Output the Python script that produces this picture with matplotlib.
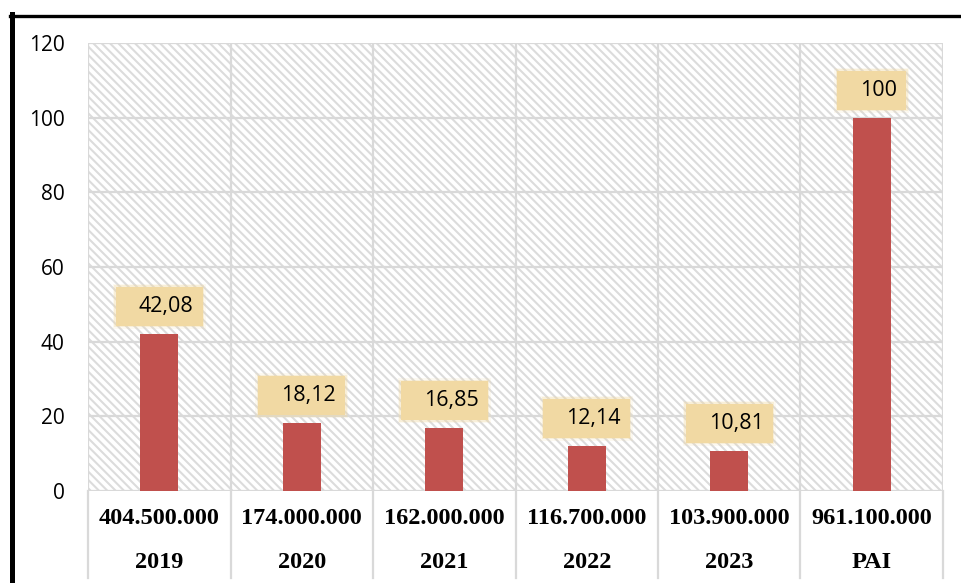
import matplotlib
matplotlib.use("Agg")
import matplotlib.pyplot as plt
import matplotlib.transforms as mtransforms
from matplotlib.patches import Rectangle
from matplotlib.lines import Line2D

# Data
years = ["2019", "2020", "2021", "2022", "2023", "PAI"]
amounts = [404500000, 174000000, 162000000, 116700000, 103900000, 961100000]
percent = [42.08, 18.12, 16.85, 12.14, 10.81, 100]
yticks = [0, 20, 40, 60, 80, 100, 120]

BAR = "#C0504D"
GRID = "#D9D9D9"
HATCH = "#DCDCDC"
LABEL_BG = "#F1D9A3"


def fmt_amount(v):
    return f"{v:,}".replace(",", ".")


def fmt_pct(v):
    if float(v).is_integer():
        return str(int(v))
    return f"{v:.2f}".replace(".", ",")


plt.rcParams["hatch.linewidth"] = 1.5

fig = plt.figure(figsize=(9.62, 5.83), dpi=100)
fig.patch.set_facecolor("white")
ax = fig.add_axes([88 / 962, 1 - 491 / 583, (943 - 88) / 962, (491 - 43) / 583])

# Hatched plot area
ax.patch.set_facecolor("white")
bg = Rectangle((0, 0), 1, 1, transform=ax.transAxes, facecolor="white",
               edgecolor=HATCH, linewidth=0, hatch="\\\\\\\\", zorder=0)
ax.add_patch(bg)

x = list(range(len(years)))
ax.bar(x, percent, width=0.27, color=BAR, zorder=3)

ax.set_xlim(-0.5, len(years) - 0.5)
ax.set_ylim(0, 120)
ax.set_yticks(yticks)
ax.set_yticklabels([str(t) for t in yticks], fontsize=15, family="Open Sans")
ax.tick_params(axis="y", length=0, pad=17)
ax.set_xticks([])

# Grid
for t in yticks:
    ax.axhline(t, color=GRID, linewidth=1.6, zorder=1)
for b in [i - 0.5 for i in range(len(years) + 1)]:
    ax.axvline(b, color=GRID, linewidth=1.6, zorder=1)
    ax.add_line(Line2D([b, b], [0, -0.194], transform=ax.get_xaxis_transform(),
                       color=GRID, linewidth=1.6, clip_on=False))
for s in ax.spines.values():
    s.set_visible(False)

# Two-row category labels
xt = ax.get_xaxis_transform()
for i in x:
    ax.text(i, -0.0625, fmt_amount(amounts[i]), transform=xt, ha="center", va="center",
            fontsize=17.5, fontweight="bold", family="Liberation Serif")
    ax.text(i, -0.16, years[i], transform=xt, ha="center", va="center",
            fontsize=17.5, fontweight="bold", family="Liberation Serif")

# Value labels on beige boxes
fig.canvas.draw()
renderer = fig.canvas.get_renderer()
box_h = 39
gap = 8
for i, v in zip(x, percent):
    anchor = mtransforms.Affine2D() + mtransforms.ScaledTranslation(i, v, ax.transData)
    t = ax.text(0, 0, fmt_pct(v), transform=anchor, fontsize=15.5, family="Open Sans",
                ha="right", va="center", zorder=6, color="black")
    w = t.get_window_extent(renderer).width
    bw = w + 32
    left = -bw / 2
    bottom = gap
    t.set_position((left + bw - 9, bottom + box_h / 2))
    for k, a in [(3, 0.15), (1.5, 0.3)]:
        ax.add_patch(Rectangle((left - k, bottom - k), bw + 2 * k, box_h + 2 * k,
                               transform=anchor, facecolor=LABEL_BG, edgecolor="none",
                               alpha=a, zorder=5, clip_on=False))
    ax.add_patch(Rectangle((left, bottom), bw, box_h, transform=anchor,
                           facecolor=LABEL_BG, edgecolor="none", zorder=5, clip_on=False))

# Black frame lines on top and left
fig.add_artist(Line2D([10 / 962, 1], [1 - 15.5 / 583, 1 - 15.5 / 583],
                      transform=fig.transFigure, color="black", linewidth=2.4))
fig.add_artist(Line2D([12 / 962, 12 / 962], [0, 1 - 14 / 583],
                      transform=fig.transFigure, color="black", linewidth=3.6))

fig.savefig("out.png", dpi=100)
